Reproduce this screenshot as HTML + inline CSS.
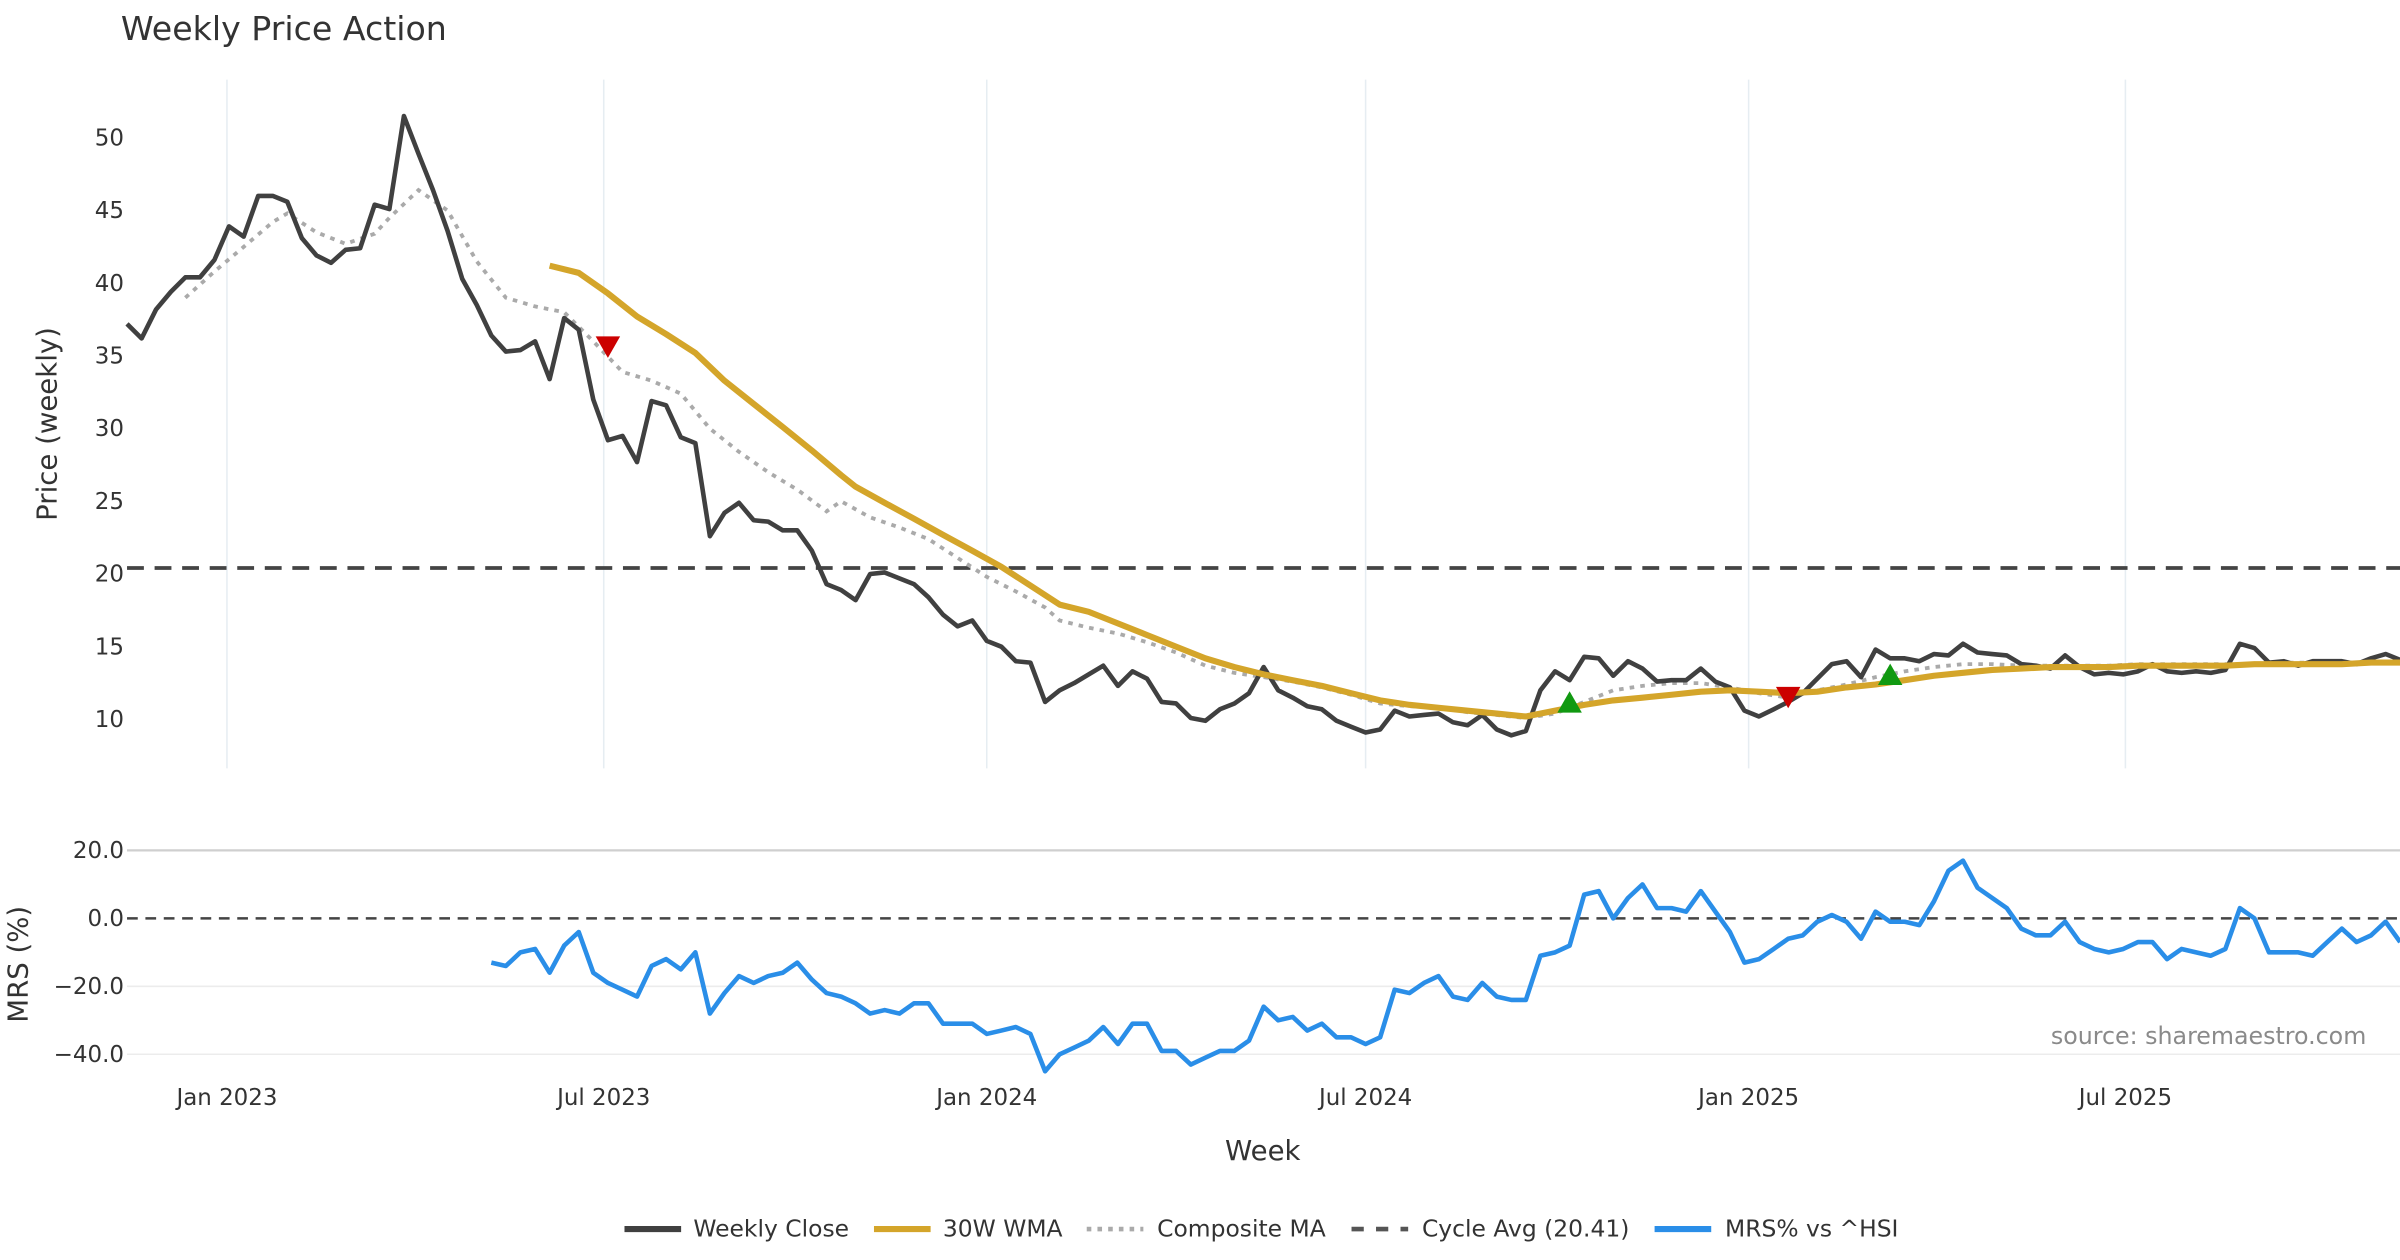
<!DOCTYPE html>
<html><head><meta charset="utf-8"><title>Weekly Price Action</title>
<style>
html,body{margin:0;padding:0;background:#fff;}
svg{display:block;font-family:"DejaVu Sans","Liberation Sans",sans-serif;}
</style></head>
<body>
<svg id="chart" width="2400" height="1260" viewBox="0 0 1568 823.2" xmlns="http://www.w3.org/2000/svg">
<rect width="1568" height="823.2" fill="#fff"/>
<text x="79" y="26" font-size="21.7" fill="#333">Weekly Price Action</text>
<g id="grid"></g>
<g id="price"></g>
<g id="mrs"></g>
<g id="axes"></g>
<g id="legend"></g>
</svg>
<script>
// ---- data ----
const startDate = "2022-11-14";
const closeVals = [37.2,36.2,38.2,39.4,40.4,40.4,41.6,43.9,43.2,46.0,
46.0,45.6,43.1,41.9,41.4,42.3,42.4,45.4,45.1,51.5,
48.9,46.4,43.6,40.3,38.5,36.4,35.3,35.4,36.0,33.4,
37.6,36.8,32.0,29.2,29.5,27.7,31.9,31.6,29.4,29.0,
22.6,24.2,24.9,23.7,23.6,23.0,23.0,21.6,19.3,18.9,
18.2,20.0,20.1,19.7,19.3,18.4,17.2,16.4,16.8,15.4,
15.0,14.0,13.9,11.2,12.0,12.5,13.1,13.7,12.3,13.3,
12.8,11.2,11.1,10.1,9.9,10.7,11.1,11.8,13.6,12.0,
11.5,10.9,10.7,9.9,9.5,9.1,9.3,10.6,10.2,10.3,
10.4,9.8,9.6,10.3,9.3,8.9,9.2,12.0,13.3,12.7,
14.3,14.2,13.0,14.0,13.5,12.6,12.7,12.7,13.5,12.6,
12.2,10.6,10.2,10.7,11.2,11.8,12.8,13.8,14.0,12.9,
14.8,14.2,14.2,14.0,14.5,14.4,15.2,14.6,14.5,14.4,
13.8,13.7,13.5,14.4,13.6,13.1,13.2,13.1,13.3,13.8,
13.3,13.2,13.3,13.2,13.4,15.2,14.9,13.9,14.0,13.7,
14.0,14.0,14.0,13.8,14.2,14.5,14.1];
const wmaWeeks = [29,31,33,35,37,39,41,43,45,47,49,50,52,54,56,58,60,62,64,66,68,70,72,74,76,78,80,82,84,86,88,90,92,94,96,98,100,102,104,106,108,110,112,114,116,118,120,122,124,126,128,130,132,134,136,138,140,142,144,146,148,150,152,154,156];
const wmaVals = [41.2,40.7,39.3,37.7,36.5,35.2,33.3,31.7,30.1,28.5,26.8,26.0,24.9,23.8,22.7,21.6,20.5,19.2,17.9,17.4,16.6,15.8,15.0,14.2,13.6,13.1,12.7,12.3,11.8,11.3,11.0,10.8,10.6,10.4,10.2,10.6,11.0,11.3,11.5,11.7,11.9,12.0,11.9,11.8,11.9,12.2,12.4,12.7,13.0,13.2,13.4,13.5,13.6,13.6,13.6,13.7,13.7,13.7,13.7,13.8,13.8,13.8,13.8,13.9,13.9];
const compWeeks = [4,6,8,10,11,13,15,17,18,20,22,24,26,28,30,32,34,36,38,40,42,44,46,48,49,51,53,55,57,59,61,63,64,66,68,70,72,74,76,78,80,82,84,86,88,90,92,94,96,98,100,102,104,106,108,110,112,114,116,118,120,122,124,126,128,130,132,134,136,138,140,142,144,146,148,150,152,154,156];
const compVals = [39.0,40.8,42.5,44.2,44.8,43.5,42.7,43.4,44.5,46.4,45.0,41.5,39.0,38.4,38.0,36.0,33.9,33.3,32.4,30.0,28.4,27.0,25.8,24.3,25.0,23.9,23.2,22.4,21.1,19.8,18.8,17.7,16.8,16.3,15.9,15.3,14.6,13.7,13.2,12.9,12.6,12.2,11.7,11.1,10.9,10.8,10.5,10.3,10.1,10.4,11.2,12.0,12.3,12.5,12.5,12.2,11.8,11.5,12.0,12.4,12.9,13.3,13.6,13.8,13.8,13.7,13.7,13.7,13.7,13.8,13.8,13.8,13.8,13.8,13.9,13.9,13.9,13.9,13.9];
const mrsStart = 25;
const mrsVals = [-13,-14,-10,-9,-16,-8,-4,-16,-19,-21,-23,-14,-12,-15,-10,-28,-22,-17,-19,-17,-16,-13,-18,-22,-23,-25,-28,-27,-28,-25,-25,-31,-31,-31,-34,-33,-32,-34,-45,-40,-38,-36,-32,-37,-31,-31,-39,-39,-43,-41,-39,-39,-36,-26,-30,-29,-33,-31,-35,-35,-37,-35,-21,-22,-19,-17,-23,-24,-19,-23,-24,-24,-11,-10,-8,7,8,0,6,10,3,3,2,8,2,-4,-13,-12,-9,-6,-5,-1,1,-1,-6,2,-1,-1,-2,5,14,17,9,6,3,-3,-5,-5,-1,-7,-9,-10,-9,-7,-7,-12,-9,-10,-11,-9,3,0,-10,-10,-10,-11,-7,-3,-7,-5,-1,-7];
const cycleAvg = 20.41;
const sellWeeks = [33,114];
const sellVals = [35.6,11.5];
const buyWeeks = [99,121];
const buyVals = [11.2,13.1];
const priceTicks = [10,15,20,25,30,35,40,45,50];
const mrsTicks = [-40,-20,0,20];
const dateTicks = ["2023-01-01","2023-07-01","2024-01-01","2024-07-01","2025-01-01","2025-07-01"];
const dateLabels = ["Jan 2023","Jul 2023","Jan 2024","Jul 2024","Jan 2025","Jul 2025"];

// ---- scales ----
const NS="http://www.w3.org/2000/svg";
const t0 = Date.parse(startDate+"T00:00:00Z");
function xDate(d){return 83 + (Date.parse(d+"T00:00:00Z")-t0)/(7*86400000)*9.52;}
function xWeek(i){return 83 + i*9.52;}
function yP(v){return 470 - (v-10)*9.5;}
function yM(v){return 600 - v*2.22;}
function mk(tag,attrs,parent,text){const e=document.createElementNS(NS,tag);for(const k in attrs)e.setAttribute(k,attrs[k]);if(text!==undefined)e.textContent=text;parent.appendChild(e);return e;}
const grid=document.getElementById('grid'),price=document.getElementById('price'),mrs=document.getElementById('mrs'),axes=document.getElementById('axes'),legend=document.getElementById('legend');

dateTicks.forEach((d,i)=>{
  const x=xDate(d);
  let l=mk('line',{x1:x,x2:x,y1:52,y2:502,stroke:'#e6edf2','stroke-width':1},grid);
  
  
  let t=mk('text',{x:x,y:722,'font-size':15,fill:'#333','text-anchor':'middle'},axes,dateLabels[i]);
  
  
});
priceTicks.forEach(v=>{
  let t=mk('text',{x:81,y:yP(v)+5,'font-size':15,fill:'#333','text-anchor':'end'},axes,String(v));
  
  
});
mrsTicks.forEach(v=>{
  const y=yM(v);
  if(v!==0){let l=mk('line',{x1:83,x2:1568,y1:y,y2:y,stroke:v===20?'#cfcfcf':'#ececec','stroke-width':v===20?1.5:1},grid);
  
  }
  const lab=(v<0?'\u2212':'')+Math.abs(v).toFixed(1);
  let t=mk('text',{x:81,y:y+5,'font-size':15,fill:'#333','text-anchor':'end'},axes,lab);
  
  
});
let yt=mk('text',{x:0,y:0,'font-size':18,fill:'#333','text-anchor':'middle',transform:'translate(37,277) rotate(-90)'},axes,'Price (weekly)');


let mt=mk('text',{x:0,y:0,'font-size':18,fill:'#333','text-anchor':'middle',transform:'translate(18,630) rotate(-90)'},axes,'MRS (%)');


let xt=mk('text',{x:825,y:758,'font-size':18,fill:'#333','text-anchor':'middle'},axes,'Week');


let src=mk('text',{x:1546,y:682,'font-size':15.5,fill:'#8a8a8a','text-anchor':'end'},axes,'source: sharemaestro.com');



let ca=mk('line',{x1:83,x2:1568,y1:yP(cycleAvg),y2:yP(cycleAvg),stroke:'#444','stroke-width':2.5,'stroke-dasharray':'11,7'},price);



function pts(xs,ys,fx,fy){return xs.map((w,i)=>fx(w).toFixed(1)+','+fy(ys[i]).toFixed(1)).join(' ');}
let comp=mk('polyline',{points:pts(compWeeks,compVals,xWeek,yP),fill:'none',stroke:'#aaaaaa','stroke-width':2.5,'stroke-dasharray':'3,4'},price);


let cl=mk('polyline',{points:pts(closeVals.map((v,i)=>i),closeVals,xWeek,yP),fill:'none',stroke:'#404040','stroke-width':3,'stroke-linejoin':'round'},price);


let wm=mk('polyline',{points:pts(wmaWeeks,wmaVals,xWeek,yP),fill:'none',stroke:'#d4a52a','stroke-width':4,'stroke-linejoin':'round'},price);


sellWeeks.forEach((w,i)=>{const x=xWeek(w),y=yP(sellVals[i]);
  let p=mk('polygon',{points:`${x-8},${y-7} ${x+8},${y-7} ${x},${y+7}`,fill:'#cc0000'},price);
  
  });
buyWeeks.forEach((w,i)=>{const x=xWeek(w),y=yP(buyVals[i]);
  let p=mk('polygon',{points:`${x-8},${y+7} ${x+8},${y+7} ${x},${y-7}`,fill:'#119911'},price);
  
  });

let z=mk('line',{x1:83,x2:1568,y1:yM(0),y2:yM(0),stroke:'#444','stroke-width':1.6,'stroke-dasharray':'7,5'},mrs);


let ml=mk('polyline',{points:pts(mrsVals.map((v,i)=>i+mrsStart),mrsVals,xWeek,yM),fill:'none',stroke:'#2a8ee8','stroke-width':3,'stroke-linejoin':'round'},mrs);



const leg=[['Weekly Close',408,453,'#404040',4,''],['30W WMA',571,616,'#d4a52a',4,''],['Composite MA',710,756,'#aaaaaa',3,'3,4'],['Cycle Avg (20.41)',883,929,'#555',3,'8,8'],['MRS% vs ^HSI',1081,1127,'#2a8ee8',4,'']];
leg.forEach(e=>{const g=mk('g',{},legend);
  
  
  mk('line',{x1:e[1],x2:e[1]+37,y1:803,y2:803,stroke:e[3],'stroke-width':e[4],'stroke-dasharray':e[5]},g);
  mk('text',{x:e[2],y:808,'font-size':15.3,fill:'#333'},g,e[0]);});
</script>
</body></html>
